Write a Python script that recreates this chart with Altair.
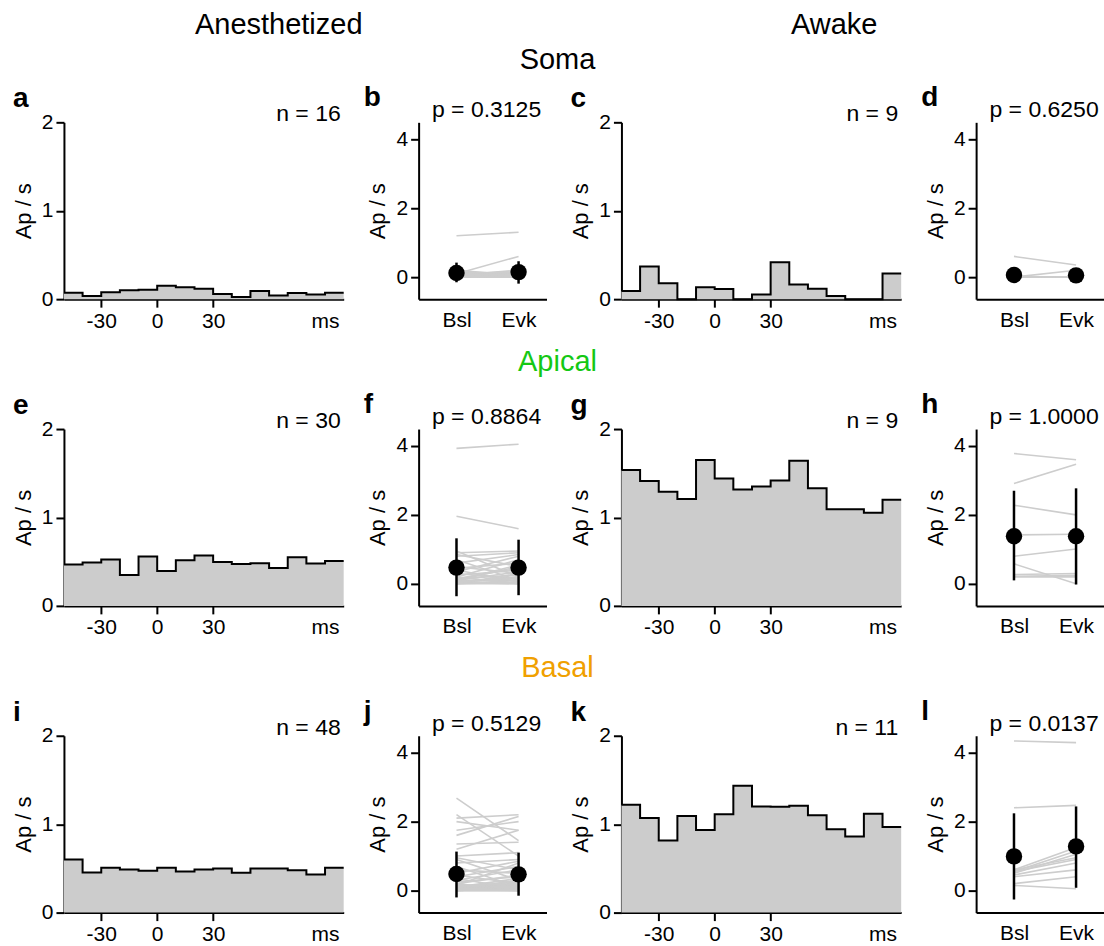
import altair as alt
import pandas as pd

FONT = "Liberation Sans"

# ---- histogram data: population firing rate in 10-ms bins (Ap / s) ----
bin_edges = [-50, -40, -30, -20, -10, 0, 10, 20, 30, 40, 50, 60, 70, 80, 90, 100]

soma_anesth = [0.073, 0.035, 0.077, 0.100, 0.107, 0.153, 0.134, 0.119, 0.057, 0.023, 0.092, 0.042, 0.069, 0.054, 0.073]
soma_awake = [0.092, 0.370, 0.180, 0.0, 0.134, 0.115, 0.0, 0.054, 0.418, 0.165, 0.119, 0.035, 0.0, 0.0, 0.290]
apical_anesth = [0.467, 0.490, 0.524, 0.350, 0.558, 0.395, 0.516, 0.569, 0.497, 0.474, 0.482, 0.429, 0.550, 0.478, 0.508]
apical_awake = [1.538, 1.412, 1.292, 1.208, 1.650, 1.442, 1.315, 1.350, 1.419, 1.642, 1.331, 1.092, 1.092, 1.054, 1.200]
basal_anesth = [0.600, 0.454, 0.508, 0.488, 0.473, 0.508, 0.465, 0.488, 0.500, 0.450, 0.500, 0.500, 0.480, 0.430, 0.508]
basal_awake = [1.219, 1.069, 0.815, 1.092, 0.935, 1.112, 1.435, 1.200, 1.196, 1.208, 1.100, 0.942, 0.862, 1.119, 0.969]

# ---- paired per-cell rates: baseline (Bsl) vs evoked (Evk) ----
soma_anesth_bsl = [1.2, 0.1, 0.2, 0.05, 0.1, 0.0, 0.15, 0.05, 0.0, 0.1, 0.0, 0.05, 0.1, 0.0, 0.05, 0.0]
soma_anesth_evk = [1.3, 0.6, 0.05, 0.2, 0.1, 0.0, 0.1, 0.0, 0.05, 0.15, 0.0, 0.1, 0.05, 0.0, 0.05, 0.05]

soma_awake_bsl = [0.6, 0.0, 0.0, 0.0, 0.0, 0.0, 0.0, 0.0, 0.02]
soma_awake_evk = [0.35, 0.2, 0.0, 0.0, 0.0, 0.0, 0.0, 0.0, 0.0]

apical_anesth_bsl = [3.93, 1.96, 0.95, 0.9, 0.85, 0.8, 0.7, 0.6, 0.5, 0.45, 0.4, 0.35, 0.3, 0.25, 0.2, 0.2,
                     0.15, 0.15, 0.1, 0.1, 0.1, 0.05, 0.05, 0.05, 0.0, 0.0, 0.0, 0.0, 0.05, 0.1]
apical_anesth_evk = [4.05, 1.6, 0.2, 0.95, 0.5, 0.9, 0.1, 0.85, 0.3, 0.6, 0.05, 0.8, 0.15, 0.4, 0.7, 0.0,
                     0.45, 0.25, 0.55, 0.1, 0.35, 0.2, 0.0, 0.15, 0.3, 0.05, 0.1, 0.0, 0.2, 0.5]

apical_awake_bsl = [3.78, 2.91, 2.28, 1.42, 0.8, 0.58, 0.27, 0.22, 0.2]
apical_awake_evk = [3.6, 3.47, 2.0, 1.44, 1.01, 0.0, 0.3, 0.25, 0.2]

basal_anesth_bsl = [2.68, 2.2, 2.1, 2.0, 1.75, 1.6, 1.35, 1.2, 1.0, 0.95,
                    0.9, 0.8, 0.7, 0.6, 0.5, 0.45, 0.4, 0.35, 0.3, 0.25, 0.2, 0.2, 0.15, 0.15,
                    0.1, 0.1, 0.1, 0.05, 0.05, 0.05, 0.05, 0.0, 0.0, 0.0, 0.0, 0.0, 0.0, 0.0,
                    0.0, 0.0, 0.02, 0.03, 0.08, 0.12, 0.06, 0.04, 0.0, 0.0]
basal_anesth_evk = [1.45, 1.0, 2.2, 1.75, 2.0, 2.15, 1.4, 1.75, 1.1, 0.6,
                    0.3, 0.9, 0.1, 0.5, 0.85, 0.2, 0.7, 0.05, 0.6, 0.4, 0.0, 0.45, 0.15, 0.8,
                    0.25, 0.1, 0.35, 0.0, 0.2, 0.05, 0.3, 0.1, 0.0, 0.15, 0.05, 0.0, 0.1, 0.2,
                    0.05, 0.0, 0.1, 0.0, 0.05, 0.2, 0.0, 0.1, 0.05, 0.0]

basal_awake_bsl = [4.34, 2.4, 0.6, 0.55, 0.5, 0.6, 0.55, 0.45, 0.4, 0.2, 0.15]
basal_awake_evk = [4.29, 2.47, 1.25, 1.15, 1.05, 0.95, 0.9, 0.8, 0.6, 0.4, 0.05]

# ---- group mean and error bar limits [Bsl, Evk] ----
soma_anesth_mean, soma_anesth_lo, soma_anesth_hi = [0.12, 0.145], [-0.15, -0.19], [0.42, 0.46]
soma_awake_mean, soma_awake_lo, soma_awake_hi = [0.06, 0.05], [-0.12, -0.12], [0.24, 0.22]
apical_anesth_mean, apical_anesth_lo, apical_anesth_hi = [0.47, 0.47], [-0.36, -0.33], [1.32, 1.28]
apical_awake_mean, apical_awake_lo, apical_awake_hi = [1.38, 1.38], [0.10, -0.02], [2.70, 2.77]
basal_anesth_mean, basal_anesth_lo, basal_anesth_hi = [0.48, 0.47], [-0.20, -0.15], [1.13, 1.10]
basal_awake_mean, basal_awake_lo, basal_awake_hi = [0.99, 1.28], [-0.26, 0.08], [2.24, 2.44]

conditions = ["Bsl", "Evk"]

HIST_W, HIST_H = 280, 177
PAIR_W, PAIR_H = 128, 177
ROW_STEP = 307
HEAD = 29      # column / row headings
NOTE = 23      # n and p annotations


def text_layer(s, x, y, size, weight="normal", align="left", color="black"):
    return alt.Chart(pd.DataFrame({"s": [s]})).mark_text(
        font=FONT, fontSize=size, fontWeight=weight, align=align,
        baseline="alphabetic", color=color
    ).encode(text="s:N", x=alt.value(x), y=alt.value(y))


def hist_panel(rates, letter, n_label, extra=()):
    pts = [{"t": e, "rate": r} for e, r in zip(bin_edges[:-1], rates)]
    pts.append({"t": bin_edges[-1], "rate": rates[-1]})
    base = alt.Chart(pd.DataFrame(pts))
    x = alt.X("t:Q", scale=alt.Scale(domain=[bin_edges[0], bin_edges[-1]], nice=False, zero=False),
              axis=alt.Axis(values=[-30, 0, 30, 90], title=None,
                            labelExpr="datum.value == 90 ? 'ms' : (datum.value < 0 ? '-' + abs(datum.value) : '' + datum.value)",
                            tickOpacity={"condition": {"test": "datum.value == 90", "value": 0}, "value": 1}))
    y = alt.Y("rate:Q", scale=alt.Scale(domain=[0, 2], nice=False),
              axis=alt.Axis(values=[0, 1, 2], format="~g", title="Ap / s"))
    area = base.mark_area(interpolate="step-after", color="#cccccc", opacity=1).encode(x=x, y=y)
    line = base.mark_line(interpolate="step-after", color="black", strokeWidth=2).encode(x="t:Q", y="rate:Q")
    layers = [area, line,
              text_layer(letter, -51, -15, 28, weight="bold"),
              text_layer(n_label, HIST_W - 3, -1, NOTE, align="right")]
    layers += list(extra)
    return alt.layer(*layers).properties(width=HIST_W, height=HIST_H)


def pair_panel(bsl, evk, mean, lo, hi, letter, p_label):
    rows = []
    for i, (b, e) in enumerate(zip(bsl, evk)):
        rows.append({"cell": i, "cond": 0, "rate": b})
        rows.append({"cell": i, "cond": 1, "rate": e})
    cells = alt.Chart(pd.DataFrame(rows))
    summ = alt.Chart(pd.DataFrame({"cond": [0, 1], "mean": mean, "lo": lo, "hi": hi}))
    x = alt.X("cond:Q", scale=alt.Scale(domain=[-0.61, 1.45], nice=False, zero=False),
              axis=alt.Axis(values=[0, 1], ticks=False, labelPadding=10, title=None,
                            labelExpr="datum.value == 0 ? '%s' : '%s'" % tuple(conditions)))
    y = alt.Y("rate:Q", scale=alt.Scale(domain=[-0.64, 4.49], nice=False, zero=False),
              axis=alt.Axis(values=[0, 2, 4], format="~g", title="Ap / s"))
    lines = cells.mark_line(color="#cdcdcd", strokeWidth=1.6).encode(x=x, y=y, detail="cell:N")
    err = summ.mark_rule(color="black", strokeWidth=2.5).encode(x="cond:Q", y="lo:Q", y2="hi:Q")
    dots = summ.mark_circle(color="black", size=270, opacity=1).encode(x="cond:Q", y="mean:Q")
    return alt.layer(
        lines, err, dots,
        text_layer(letter, -55, -16, 28, weight="bold"),
        text_layer(p_label, PAIR_W / 2 + 4, -5, NOTE, align="center"),
    ).properties(width=PAIR_W, height=PAIR_H)


a = hist_panel(soma_anesth, "a", "n = 16", extra=[
    text_layer("Anesthetized", 215, -88, HEAD, align="center"),
    text_layer("Soma", 494, -53, HEAD, align="center"),
])
b = pair_panel(soma_anesth_bsl, soma_anesth_evk, soma_anesth_mean, soma_anesth_lo, soma_anesth_hi, "b", "p = 0.3125")
c = hist_panel(soma_awake, "c", "n = 9", extra=[text_layer("Awake", 213, -88, HEAD, align="center")])
d = pair_panel(soma_awake_bsl, soma_awake_evk, soma_awake_mean, soma_awake_lo, soma_awake_hi, "d", "p = 0.6250")

e = hist_panel(apical_anesth, "e", "n = 30", extra=[
    text_layer("Apical", 494, -58, HEAD, align="center", color="#14c814"),
])
f = pair_panel(apical_anesth_bsl, apical_anesth_evk, apical_anesth_mean, apical_anesth_lo, apical_anesth_hi, "f", "p = 0.8864")
g = hist_panel(apical_awake, "g", "n = 9")
h = pair_panel(apical_awake_bsl, apical_awake_evk, apical_awake_mean, apical_awake_lo, apical_awake_hi, "h", "p = 1.0000")

i_ = hist_panel(basal_anesth, "i", "n =  48", extra=[
    text_layer("Basal", 494, -59, HEAD, align="center", color="#f0a000"),
])
j = pair_panel(basal_anesth_bsl, basal_anesth_evk, basal_anesth_mean, basal_anesth_lo, basal_anesth_hi, "j", "p = 0.5129")
k = hist_panel(basal_awake, "k", "n = 11")
l = pair_panel(basal_awake_bsl, basal_awake_evk, basal_awake_mean, basal_awake_lo, basal_awake_hi, "l", "p = 0.0137")

rows = [alt.hconcat(*panels, spacing=75, bounds="flush") for panels in ([a, b, c, d], [e, f, g, h], [i_, j, k, l])]

# with flush bounds the nested rows count as zero height, so the step is top-to-top
chart = alt.vconcat(*rows, spacing=ROW_STEP, bounds="flush").properties(
    padding={"left": 12, "top": 11, "right": 0, "bottom": 0}
).configure(font=FONT).configure_view(stroke=None).configure_axis(
    domainColor="black", domainWidth=2, tickColor="black", tickWidth=2, tickSize=8,
    labelFont=FONT, labelFontSize=21, labelColor="black", labelPadding=3,
    titleFont=FONT, titleFontSize=22, titleFontWeight="normal", titleColor="black",
    titlePadding=6, grid=False,
)

chart.save("out.html", embed_options={"renderer": "svg", "actions": False})
